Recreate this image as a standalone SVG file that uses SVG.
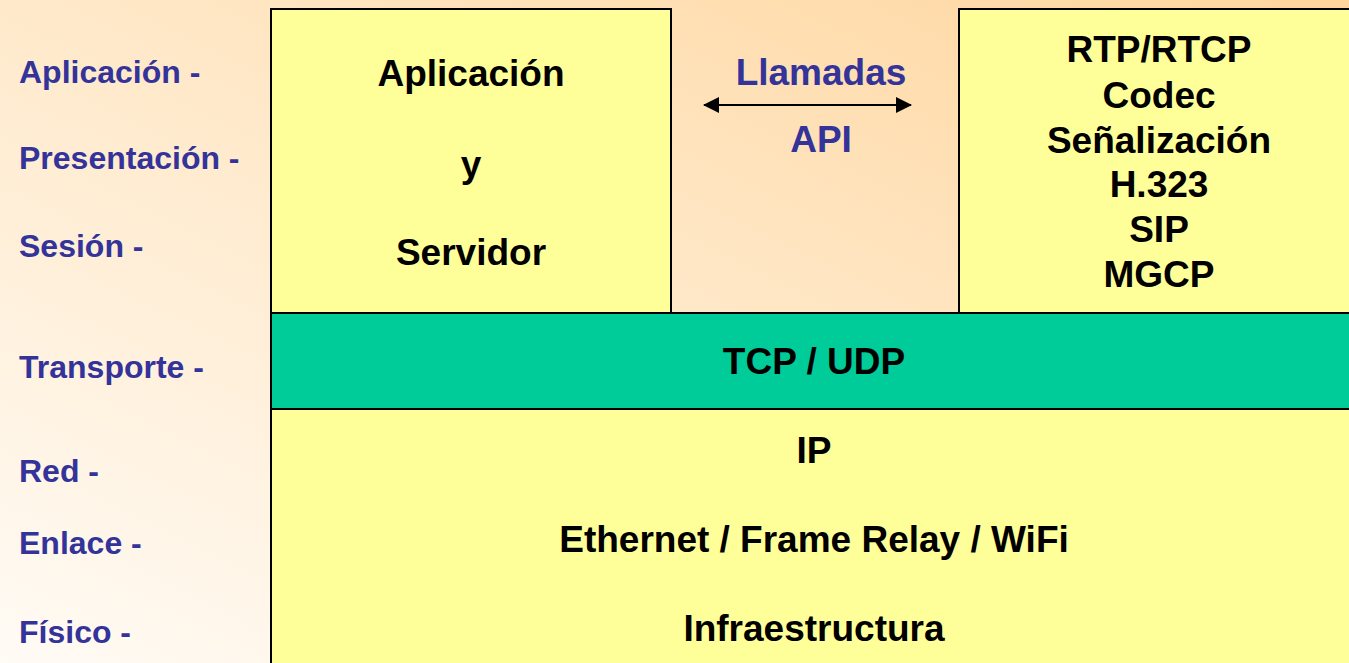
<svg xmlns="http://www.w3.org/2000/svg" width="1349" height="663" viewBox="0 0 1349 663">
  <defs>
    <linearGradient id="bg" x1="1" y1="0" x2="0" y2="1">
      <stop offset="0" stop-color="#FFD59C"/>
      <stop offset="0.55" stop-color="#FFEBCF"/>
      <stop offset="1" stop-color="#FFFBF5"/>
    </linearGradient>
    <marker id="head" viewBox="0 0 16 16" refX="15" refY="8" markerWidth="16" markerHeight="16" orient="auto-start-reverse" markerUnits="userSpaceOnUse">
      <path d="M0,0 L16,8 L0,16 z" fill="#000"/>
    </marker>
    <style>
      .box { stroke: #000; stroke-width: 2; }
      .yel { fill: #FFFF99; }
      .grn { fill: #00CC99; }
      .lbl { font-family: "Liberation Sans", Arial, sans-serif; font-weight: bold; font-size: 32px; fill: #333399; }
      .blk { font-family: "Liberation Sans", Arial, sans-serif; font-weight: bold; font-size: 37px; fill: #000; text-anchor: middle; }
      .api { font-family: "Liberation Sans", Arial, sans-serif; font-weight: bold; font-size: 37px; fill: #333399; text-anchor: middle; }
    </style>
  </defs>

  <rect width="1349" height="663" fill="url(#bg)"/>

  <!-- OSI layer names -->
  <g id="osi-labels">
    <text class="lbl" x="19" y="83">Aplicación -</text>
    <text class="lbl" x="19" y="169">Presentación -</text>
    <text class="lbl" x="19" y="257">Sesión -</text>
    <text class="lbl" x="19" y="378">Transporte -</text>
    <text class="lbl" x="19" y="482">Red -</text>
    <text class="lbl" x="19" y="554">Enlace -</text>
    <text class="lbl" x="19" y="643">Físico -</text>
  </g>

  <g id="app-server">
    <rect class="box yel" x="271" y="9" width="400" height="304"/>
    <text class="blk" x="471" y="86">Aplicación</text>
    <text class="blk" x="471" y="177">y</text>
    <text class="blk" x="471" y="265">Servidor</text>
  </g>

  <g id="voip-stack">
    <rect class="box yel" x="959" y="9" width="400" height="304"/>
    <text class="blk" x="1159" y="62">RTP/RTCP</text>
    <text class="blk" x="1159" y="108">Codec</text>
    <text class="blk" x="1159" y="153">Señalización</text>
    <text class="blk" x="1159" y="197">H.323</text>
    <text class="blk" x="1159" y="242">SIP</text>
    <text class="blk" x="1159" y="287">MGCP</text>
  </g>

  <g id="transport">
    <rect class="box grn" x="271" y="313" width="1090" height="96"/>
    <text class="blk" x="814" y="374">TCP / UDP</text>
  </g>

  <g id="network">
    <rect class="box yel" x="271" y="409" width="1090" height="270"/>
    <text class="blk" x="814" y="463">IP</text>
    <text class="blk" x="814" y="552">Ethernet / Frame Relay / WiFi</text>
    <text class="blk" x="814" y="641">Infraestructura</text>
  </g>

  <g id="connectors">
    <line x1="704" y1="105" x2="911" y2="105" stroke="#000" stroke-width="2" marker-start="url(#head)" marker-end="url(#head)"/>
    <text class="api" x="821" y="85">Llamadas</text>
    <text class="api" x="821" y="152">API</text>
  </g>
</svg>
